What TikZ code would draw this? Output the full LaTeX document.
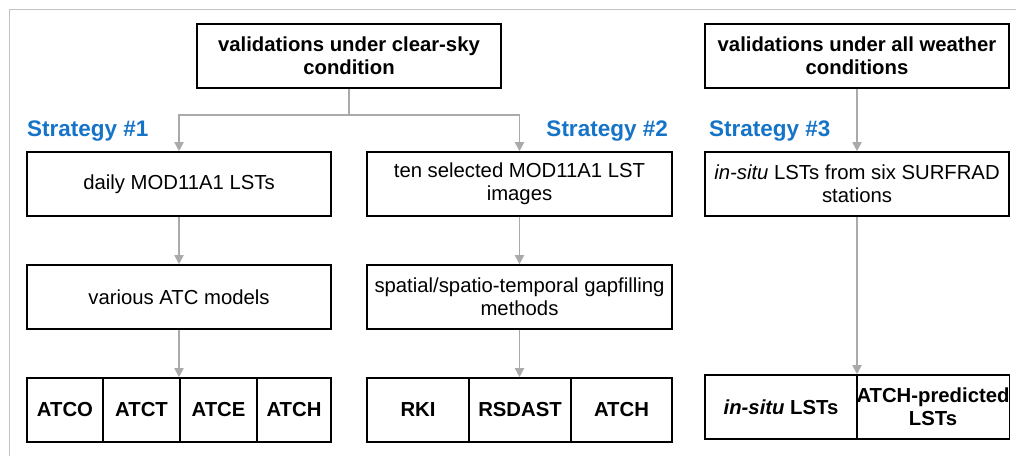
\documentclass[tikz,border=0pt]{standalone}
\usepackage{fontspec}
\setmainfont{Liberation Sans}
\usetikzlibrary{arrows.meta,positioning}
\definecolor{stratblue}{RGB}{22,116,200}
\definecolor{arrowgray}{RGB}{170,170,170}
\definecolor{framegray}{RGB}{195,195,195}
\tikzset{
  txt/.style={font=\fontsize{20.3}{23}\selectfont},
  btxt/.style={font=\fontsize{20.3}{23}\selectfont\bfseries},
  box/.style={draw=black, line width=1.6pt, inner sep=0pt, align=center},
  strat/.style={font=\fontsize{22.5}{26}\selectfont\bfseries, text=stratblue, inner sep=0pt},
  conn/.style={draw=arrowgray, line width=1.8pt},
  arr/.style={conn, -{Triangle[width=9pt,length=9pt]}},
}
\begin{document}
\begin{tikzpicture}[x=1pt,y=-1pt]
\useasboundingbox (0,0) rectangle (1016,456);
% frame
\coordinate (fr1) at (1016,9.5);
\coordinate (fr2) at (9.5,9.5);
\coordinate (fr3) at (9.5,456);
\draw[framegray, line width=1.5pt] (fr1) -- (fr2) -- (fr3);
% top boxes
\node[box, btxt, minimum width=304pt, minimum height=64pt] (top1) at (349,56) {validations under clear-sky\\condition};
\node[box, btxt, minimum width=304pt, minimum height=64pt] (top2) at (857,56) {validations under all weather\\conditions};
% strategies
\node[strat, anchor=west] (s1) at (27,131) {Strategy \#1};
\node[strat, anchor=east] (s2) at (668,131) {Strategy \#2};
\node[strat, anchor=west] (s3) at (709,131) {Strategy \#3};
% second row
\node[box, txt, minimum width=304pt, minimum height=64pt] (daily) at (179,184) {daily MOD11A1 LSTs};
\node[box, txt, minimum width=305pt, minimum height=64pt] (ten) at (519.5,184) {ten selected MOD11A1 LST\\images};
\node[box, txt, minimum width=304pt, minimum height=64pt] (insitu) at (857,184) {\textit{in-situ} LSTs from six SURFRAD\\stations};
% third row
\node[box, txt, minimum width=304pt, minimum height=64pt] (atc) at (179,297) {various ATC models};
\node[box, txt, minimum width=305pt, minimum height=64pt] (gap) at (519.5,297) {spatial/spatio-temporal gapfilling\\methods};
% bottom row left
\node[box, btxt, minimum width=76pt, minimum height=64pt] (atco) at (65,410) {ATCO};
\node[box, btxt, minimum width=77pt, minimum height=64pt] (atct) at (141.5,410) {ATCT};
\node[box, btxt, minimum width=77pt, minimum height=64pt] (atce) at (218.5,410) {ATCE};
\node[box, btxt, minimum width=74pt, minimum height=64pt] (atch1) at (294,410) {ATCH};
% bottom row middle
\node[box, btxt, minimum width=102pt, minimum height=64pt] (rki) at (418,410) {RKI};
\node[box, btxt, minimum width=102pt, minimum height=64pt] (rsdast) at (520,410) {RSDAST};
\node[box, btxt, minimum width=101pt, minimum height=64pt] (atch2) at (621.5,410) {ATCH};
% bottom row right
\node[box, btxt, minimum width=152pt, minimum height=64pt] (insitul) at (781,407) {\textit{in-situ} LSTs};
\node[box, btxt, minimum width=152pt, minimum height=64pt] (atchp) at (933,407) {ATCH-predicted\\LSTs};
% connectors
\coordinate (split) at (349,115);
\draw[conn] (top1.south) -- (split);
\draw[arr] (split) -| (daily.north);
\draw[arr] (split) -| (ten.north);
\draw[arr] (top2.south) -- (insitu.north);
\draw[arr] (daily.south) -- (atc.north);
\draw[arr] (ten.south) -- (gap.north);
\draw[arr] (atc.south) -- (atc.south |- atce.north);
\draw[arr] (gap.south) -- (gap.south |- rsdast.north);
\draw[arr] (insitu.south) -- (insitu.south |- insitul.north);
\end{tikzpicture}
\end{document}
